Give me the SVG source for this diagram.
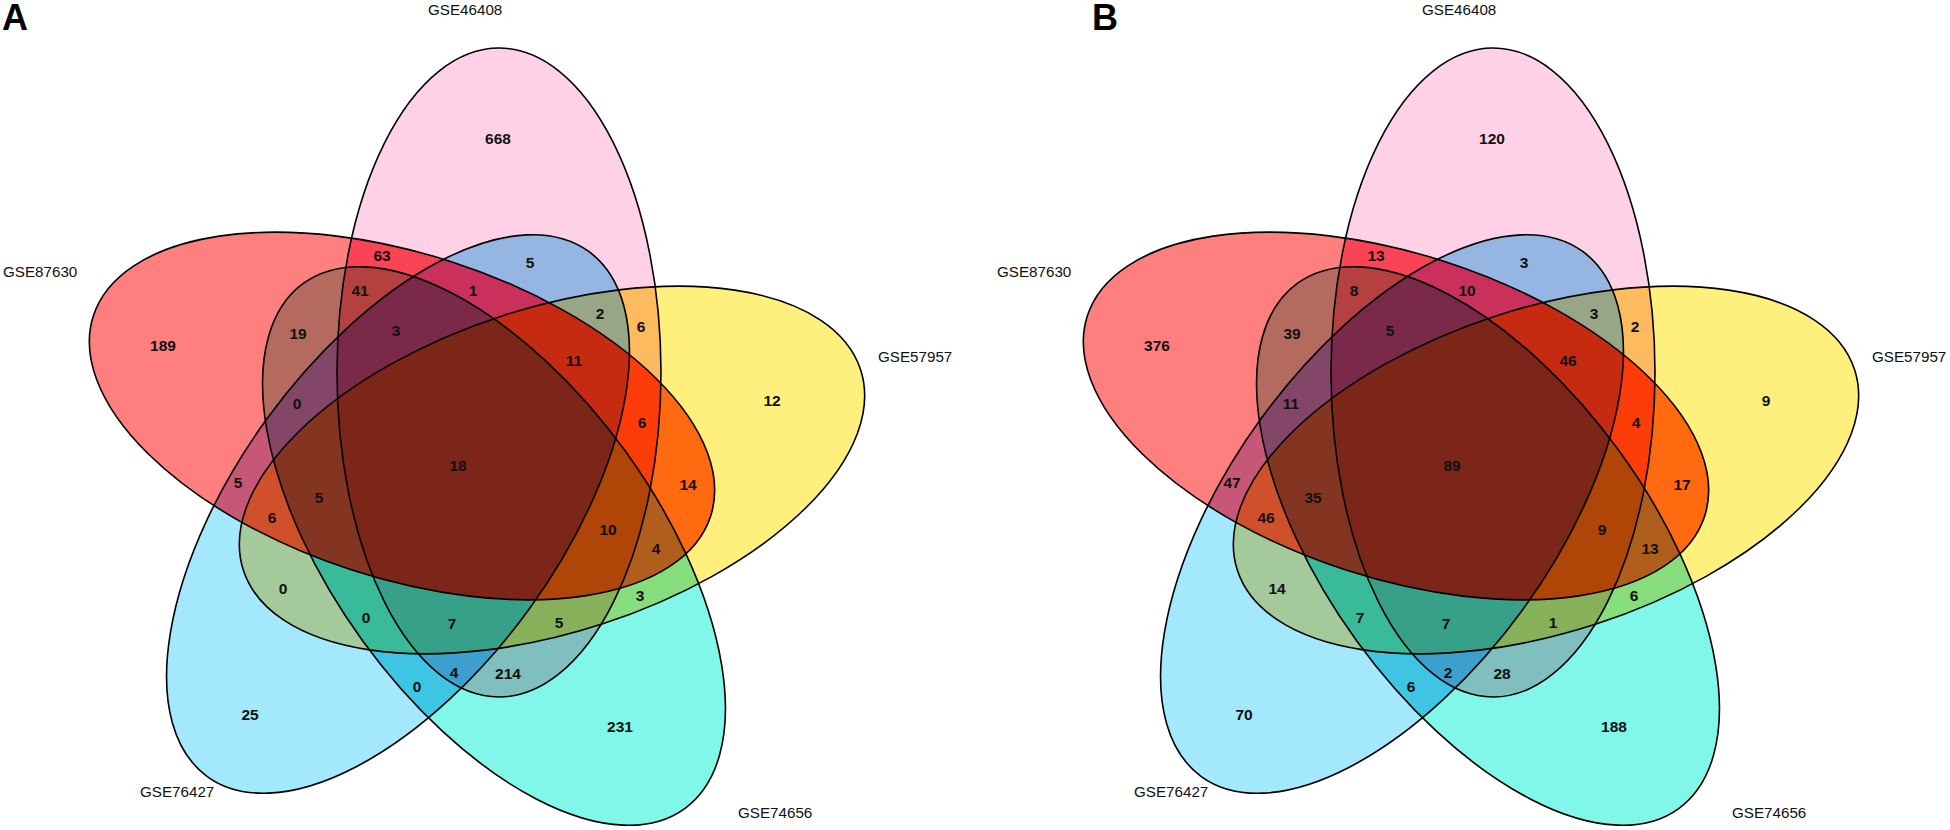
<svg xmlns="http://www.w3.org/2000/svg" xmlns:xlink="http://www.w3.org/1999/xlink" width="1950" height="830" viewBox="0 0 1950 830">
<style>
.lbl{font-family:"Liberation Sans",Arial,sans-serif;font-size:15.2px;fill:#111}
.num{font-family:"Liberation Sans",Arial,sans-serif;font-size:15.5px;font-weight:bold;fill:#111;text-anchor:middle}
.pl{font-family:"Liberation Sans",Arial,sans-serif;font-size:36px;font-weight:bold;fill:#000}
.ol{fill:none;stroke:#000;stroke-width:1.6}
</style>
<defs>
<ellipse id="eP" cx="499" cy="372.5" rx="162" ry="324.5"/>
<ellipse id="eY" cx="552" cy="470" rx="162" ry="324.5" transform="rotate(72 552 470)"/>
<ellipse id="eT" cx="494" cy="546" rx="162" ry="324.5" transform="rotate(144 494 546)"/>
<ellipse id="eB" cx="398" cy="514" rx="162" ry="324.5" transform="rotate(216 398 514)"/>
<ellipse id="eR" cx="402" cy="416" rx="162" ry="324.5" transform="rotate(288 402 416)"/>
<clipPath id="cP"><use href="#eP"/></clipPath>
<clipPath id="cY"><use href="#eY"/></clipPath>
<clipPath id="cT"><use href="#eT"/></clipPath>
<clipPath id="cB"><use href="#eB"/></clipPath>
<clipPath id="cR"><use href="#eR"/></clipPath>
<g id="fills">
<use href="#eR" fill="#FF7F7F"/>
<use href="#eP" fill="#FFD1E6"/>
<use href="#eY" fill="#FFF07E"/>
<use href="#eT" fill="#80F7E8"/>
<use href="#eB" fill="#A3E8FC"/>
<use href="#eP" fill="#FA4456" clip-path="url(#cR)"/>
<use href="#eY" fill="#FF690F" clip-path="url(#cR)"/>
<use href="#eT" fill="#B46A5E" clip-path="url(#cR)"/>
<use href="#eB" fill="#C75777" clip-path="url(#cR)"/>
<use href="#eY" fill="#FDBA5E" clip-path="url(#cP)"/>
<use href="#eT" fill="#7FBFBD" clip-path="url(#cP)"/>
<use href="#eB" fill="#95B5E3" clip-path="url(#cP)"/>
<use href="#eT" fill="#86DD7C" clip-path="url(#cY)"/>
<use href="#eB" fill="#A4C99B" clip-path="url(#cY)"/>
<use href="#eB" fill="#3EC5E3" clip-path="url(#cT)"/>
<g clip-path="url(#cR)"><use href="#eY" fill="#FE3C0A" clip-path="url(#cP)"/></g>
<g clip-path="url(#cR)"><use href="#eT" fill="#B4403F" clip-path="url(#cP)"/></g>
<g clip-path="url(#cR)"><use href="#eB" fill="#C9305C" clip-path="url(#cP)"/></g>
<g clip-path="url(#cR)"><use href="#eT" fill="#AF5F1B" clip-path="url(#cY)"/></g>
<g clip-path="url(#cR)"><use href="#eB" fill="#D1502C" clip-path="url(#cY)"/></g>
<g clip-path="url(#cR)"><use href="#eB" fill="#834669" clip-path="url(#cT)"/></g>
<g clip-path="url(#cP)"><use href="#eT" fill="#87B05B" clip-path="url(#cY)"/></g>
<g clip-path="url(#cP)"><use href="#eB" fill="#97A687" clip-path="url(#cY)"/></g>
<g clip-path="url(#cP)"><use href="#eB" fill="#3C9FCE" clip-path="url(#cT)"/></g>
<g clip-path="url(#cY)"><use href="#eB" fill="#39BB99" clip-path="url(#cT)"/></g>
<g clip-path="url(#cR)"><g clip-path="url(#cP)"><use href="#eT" fill="#AF4506" clip-path="url(#cY)"/></g></g>
<g clip-path="url(#cR)"><g clip-path="url(#cP)"><use href="#eB" fill="#C62A10" clip-path="url(#cY)"/></g></g>
<g clip-path="url(#cR)"><g clip-path="url(#cP)"><use href="#eB" fill="#7A2A48" clip-path="url(#cT)"/></g></g>
<g clip-path="url(#cR)"><g clip-path="url(#cY)"><use href="#eB" fill="#833522" clip-path="url(#cT)"/></g></g>
<g clip-path="url(#cP)"><g clip-path="url(#cY)"><use href="#eB" fill="#36A089" clip-path="url(#cT)"/></g></g>
<g clip-path="url(#cR)"><g clip-path="url(#cP)"><g clip-path="url(#cY)"><use href="#eB" fill="#7B2619" clip-path="url(#cT)"/></g></g></g>
</g>
<g id="outlines">
<use class="ol" href="#eR"/>
<use class="ol" href="#eP"/>
<use class="ol" href="#eY"/>
<use class="ol" href="#eT"/>
<use class="ol" href="#eB"/>
</g>
</defs>

<text class="pl" x="2" y="30">A</text>
<text class="pl" x="1092" y="30">B</text>

<g id="panelA">
<use href="#fills"/>
<use href="#outlines"/>
<g id="A-GSE46408"><text class="lbl" x="428" y="15">GSE46408</text></g>
<g id="A-GSE87630"><text class="lbl" x="3" y="277">GSE87630</text></g>
<g id="A-GSE57957"><text class="lbl" x="878" y="362">GSE57957</text></g>
<g id="A-GSE76427"><text class="lbl" x="140" y="797">GSE76427</text></g>
<g id="A-GSE74656"><text class="lbl" x="738" y="818">GSE74656</text></g>
<g id="A-counts">
<text class="num" x="498" y="143.5">668</text>
<text class="num" x="163" y="350.5">189</text>
<text class="num" x="772" y="405.5">12</text>
<text class="num" x="620" y="731.5">231</text>
<text class="num" x="250" y="719.5">25</text>
<text class="num" x="382" y="260.5">63</text>
<text class="num" x="530" y="267.5">5</text>
<text class="num" x="360" y="295.5">41</text>
<text class="num" x="298" y="338.5">19</text>
<text class="num" x="396" y="335.5">3</text>
<text class="num" x="473" y="295.5">1</text>
<text class="num" x="600" y="318.5">2</text>
<text class="num" x="641" y="331.5">6</text>
<text class="num" x="574" y="365.5">11</text>
<text class="num" x="642" y="427.5">6</text>
<text class="num" x="458" y="470.5">18</text>
<text class="num" x="688" y="489.5">14</text>
<text class="num" x="608" y="534.5">10</text>
<text class="num" x="656" y="553.5">4</text>
<text class="num" x="640" y="600.5">3</text>
<text class="num" x="559" y="627.5">5</text>
<text class="num" x="452" y="628.5">7</text>
<text class="num" x="508" y="678.5">214</text>
<text class="num" x="454" y="677.5">4</text>
<text class="num" x="417" y="691.5">0</text>
<text class="num" x="366" y="622.5">0</text>
<text class="num" x="283" y="593.5">0</text>
<text class="num" x="272" y="522.5">6</text>
<text class="num" x="238" y="487.5">5</text>
<text class="num" x="319" y="502.5">5</text>
<text class="num" x="297" y="408.5">0</text>
</g>
</g>

<g id="panelB" transform="translate(994,0)">
<use href="#fills"/>
<use href="#outlines"/>
<g id="B-GSE46408"><text class="lbl" x="428" y="15">GSE46408</text></g>
<g id="B-GSE87630"><text class="lbl" x="3" y="277">GSE87630</text></g>
<g id="B-GSE57957"><text class="lbl" x="878" y="362">GSE57957</text></g>
<g id="B-GSE76427"><text class="lbl" x="140" y="797">GSE76427</text></g>
<g id="B-GSE74656"><text class="lbl" x="738" y="818">GSE74656</text></g>
<g id="B-counts">
<text class="num" x="498" y="143.5">120</text>
<text class="num" x="163" y="350.5">376</text>
<text class="num" x="772" y="405.5">9</text>
<text class="num" x="620" y="731.5">188</text>
<text class="num" x="250" y="719.5">70</text>
<text class="num" x="382" y="260.5">13</text>
<text class="num" x="530" y="267.5">3</text>
<text class="num" x="360" y="295.5">8</text>
<text class="num" x="298" y="338.5">39</text>
<text class="num" x="396" y="335.5">5</text>
<text class="num" x="473" y="295.5">10</text>
<text class="num" x="600" y="318.5">3</text>
<text class="num" x="641" y="331.5">2</text>
<text class="num" x="574" y="365.5">46</text>
<text class="num" x="642" y="427.5">4</text>
<text class="num" x="458" y="470.5">89</text>
<text class="num" x="688" y="489.5">17</text>
<text class="num" x="608" y="534.5">9</text>
<text class="num" x="656" y="553.5">13</text>
<text class="num" x="640" y="600.5">6</text>
<text class="num" x="559" y="627.5">1</text>
<text class="num" x="452" y="628.5">7</text>
<text class="num" x="508" y="678.5">28</text>
<text class="num" x="454" y="677.5">2</text>
<text class="num" x="417" y="691.5">6</text>
<text class="num" x="366" y="622.5">7</text>
<text class="num" x="283" y="593.5">14</text>
<text class="num" x="272" y="522.5">46</text>
<text class="num" x="238" y="487.5">47</text>
<text class="num" x="319" y="502.5">35</text>
<text class="num" x="297" y="408.5">11</text>
</g>
</g>
</svg>
